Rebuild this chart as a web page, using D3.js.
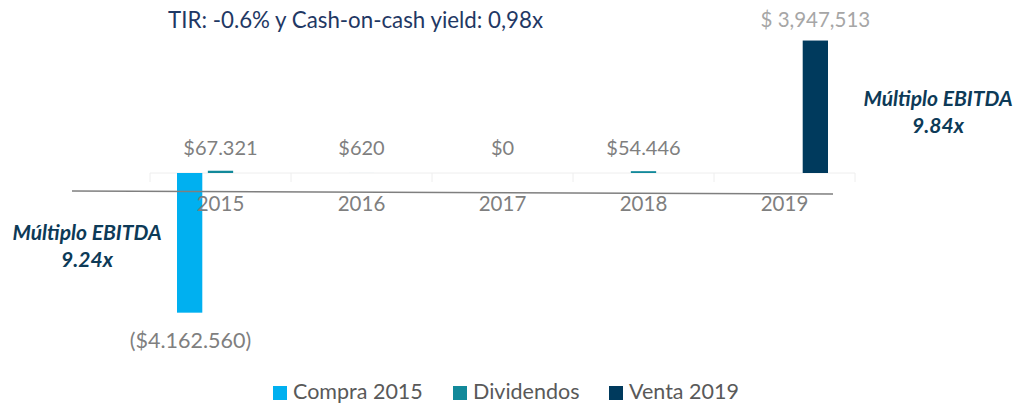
<!DOCTYPE html>
<html>
<head>
<meta charset="utf-8">
<script src="https://cdn.jsdelivr.net/npm/d3@7"></script>
<style>
  body { margin: 0; background: #fff; }
  text { font-family: Lato, "Open Sans", sans-serif; }
</style>
</head>
<body>
<div id="chart"></div>
<script>
// data
var years = ['2015', '2016', '2017', '2018', '2019']
var seriesNames = ['Compra 2015', 'Dividendos', 'Venta 2019']
var compra = [-4162560, 0, 0, 0, 0]
var dividendos = [67321, 620, 0, 54446, null]
var venta = [0, 0, 0, 0, 3947513]
var seriesColors = ['#00B0F0', '#12899A', '#003A5D']
var title = 'TIR: -0.6% y Cash-on-cash yield: 0,98x'
var notes = [
  { year: '2015', lines: ['Múltiplo EBITDA', '9.24x'] },
  { year: '2019', lines: ['Múltiplo EBITDA', '9.84x'] }
]

var width = 1015
var height = 405

var svg = d3.select('#chart').append('svg')
  .attr('width', width)
  .attr('height', height)

var x = d3.scaleBand().domain(years).range([150, 855])
var xInner = d3.scaleBand().domain(seriesNames)
  .range([27, 114]).paddingInner(0.18)
var y = d3.scaleLinear().domain([-4500000, 4500000]).range([324, 22])

var esLocale = d3.formatLocale({ decimal: ',', thousands: '.', grouping: [3], currency: ['$', ''] })
var fmtDot = esLocale.format('$,')
var fmtComma = d3.format(',')

var values = [compra, dividendos, venta]
var bars = []
values.forEach(function (arr, si) {
  arr.forEach(function (v, i) {
    if (v) bars.push({ year: years[i], series: seriesNames[si], value: v, color: seriesColors[si] })
  })
})

// title
svg.append('text')
  .attr('x', 168).attr('y', 28)
  .attr('font-size', 22.3)
  .attr('fill', '#1F3864')
  .text(title)

// faint baseline + category ticks
svg.append('line')
  .attr('x1', x.range()[0]).attr('x2', x.range()[1])
  .attr('y1', y(0)).attr('y2', y(0))
  .attr('stroke', '#eeeeee')
svg.append('g').selectAll('line')
  .data(years.concat(['end']))
  .enter().append('line')
  .attr('x1', function (d) { return d === 'end' ? x.range()[1] : x(d) })
  .attr('x2', function (d) { return d === 'end' ? x.range()[1] : x(d) })
  .attr('y1', y(0)).attr('y2', y(0) + 9)
  .attr('stroke', '#eeeeee')

// bars
svg.append('g').selectAll('rect')
  .data(bars)
  .enter().append('rect')
  .attr('x', function (d) { return x(d.year) + xInner(d.series) })
  .attr('width', xInner.bandwidth())
  .attr('y', function (d) { return Math.min(y(d.value), y(0)) })
  .attr('height', function (d) { return Math.abs(y(d.value) - y(0)) })
  .attr('fill', function (d) { return d.color })

// slanted axis line drawn over
svg.append('line')
  .attr('x1', 72).attr('y1', 191)
  .attr('x2', 833).attr('y2', 194)
  .attr('stroke', '#7f7f7f').attr('stroke-width', 1.5)

// year labels
var xAxis = d3.axisBottom(x).tickSize(0).tickPadding(23)
var ax = svg.append('g')
  .attr('transform', 'translate(0,' + y(0) + ')')
  .call(xAxis)
ax.select('.domain').remove()
ax.selectAll('text')
  .attr('font-size', 20.5)
  .attr('font-family', 'Lato, sans-serif')
  .attr('fill', '#7f7f7f')

// dividend labels
svg.append('g').selectAll('text')
  .data(dividendos.filter(function (d) { return d !== null }))
  .enter().append('text')
  .attr('x', function (d, i) { return x(years[i]) + x.bandwidth() / 2 })
  .attr('y', y(0) - 18)
  .attr('text-anchor', 'middle')
  .attr('font-size', 20)
  .attr('fill', '#7f7f7f')
  .text(function (d) { return fmtDot(d) })

// compra label
compra.forEach(function (v, i) {
  if (v === 0) return
  svg.append('text')
    .attr('x', x(years[i]) + x.bandwidth() / 2 - 30)
    .attr('y', y(v) + 35)
    .attr('text-anchor', 'middle')
    .attr('font-size', 21.5)
    .attr('fill', '#7f7f7f')
    .text('(' + fmtDot(-v) + ')')
})

// venta label
venta.forEach(function (v, i) {
  if (v === 0) return
  svg.append('text')
    .attr('x', x(years[i]) + xInner('Venta 2019') + xInner.bandwidth() / 2)
    .attr('y', y(v) - 14)
    .attr('text-anchor', 'middle')
    .attr('font-size', 20.5)
    .attr('fill', '#a6a6a6')
    .text('$ ' + fmtComma(v))
})

// annotations
var noteX = { '2015': x('2015') - 63, '2019': x('2019') + 224 }
var noteY = { '2015': 240, '2019': 106 }
notes.forEach(function (n) {
  var t = svg.append('text')
    .attr('text-anchor', 'middle')
    .attr('font-size', 21)
    .attr('font-weight', 'bold')
    .attr('font-style', 'italic')
    .attr('fill', '#0D3A57')
  n.lines.forEach(function (line, li) {
    t.append('tspan')
      .attr('x', noteX[n.year])
      .attr('y', noteY[n.year] + li * 27)
      .text(line)
  })
})

// legend
var legendX = [273, 453, 609]
var legend = svg.append('g').selectAll('g')
  .data(seriesNames)
  .enter().append('g')
  .attr('transform', function (d, i) { return 'translate(' + legendX[i] + ',0)' })
legend.append('rect')
  .attr('y', 386).attr('width', 14).attr('height', 14)
  .attr('fill', function (d, i) { return seriesColors[i] })
legend.append('text')
  .attr('x', 20).attr('y', 399)
  .attr('font-size', 21.5)
  .attr('fill', '#595959')
  .text(function (d) { return d })
</script>
</body>
</html>
